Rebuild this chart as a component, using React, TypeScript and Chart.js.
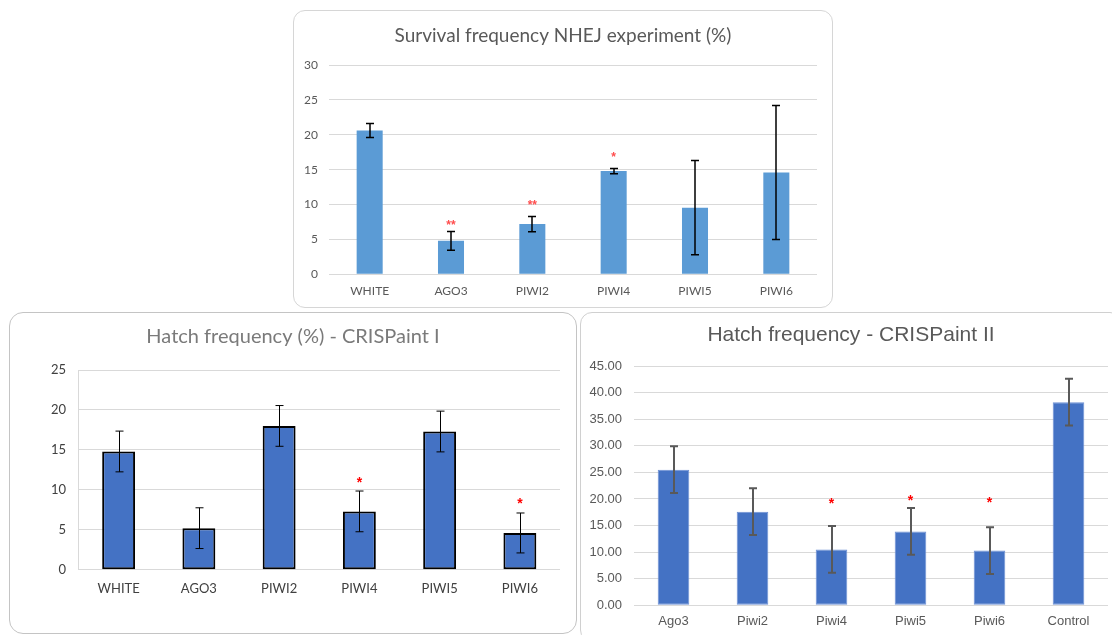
import React, { useEffect, useRef } from "react";
import { Chart, registerables } from "chart.js";

Chart.register(...registerables);

// ---------- Data: Survival frequency NHEJ experiment (%) ----------
const nhejCategories = ["WHITE", "AGO3", "PIWI2", "PIWI4", "PIWI5", "PIWI6"];
const nhejValues = [20.6, 4.8, 7.2, 14.8, 9.55, 14.6];
const nhejErrors = [1.0, 1.35, 1.1, 0.38, 6.75, 9.6];
const nhejStars = ["", "**", "**", "*", "", ""];
const nhejStarY: (number | null)[] = [null, 7.45, 10.26, 17.24, null, null];
const nhejYTicks = [0, 5, 10, 15, 20, 25, 30];
const nhejYLabels = ["0", "5", "10", "15", "20", "25", "30"];

// ---------- Data: Hatch frequency (%) - CRISPaint I ----------
const hatch1Categories = ["WHITE", "AGO3", "PIWI2", "PIWI4", "PIWI5", "PIWI6"];
const hatch1Values = [14.8, 5.2, 18.0, 7.3, 17.3, 4.6];
const hatch1Errors = [2.55, 2.55, 2.55, 2.55, 2.55, 2.5];
const hatch1Stars = ["", "", "", "*", "", "*"];
const hatch1StarY: (number | null)[] = [null, null, null, 11.2, null, 8.55];
const hatch1YTicks = [0, 5, 10, 15, 20, 25];
const hatch1YLabels = ["0", "5", "10", "15", "20", "25"];

// ---------- Data: Hatch frequency - CRISPaint II ----------
const hatch2Categories = ["Ago3", "Piwi2", "Piwi4", "Piwi5", "Piwi6", "Control"];
const hatch2Values = [25.5, 17.6, 10.5, 13.9, 10.3, 38.2];
const hatch2Errors = [4.4, 4.4, 4.4, 4.4, 4.4, 4.4];
const hatch2Stars = ["", "", "*", "*", "*", ""];
const hatch2StarY: (number | null)[] = [null, null, 19.67, 20.2, 19.86, null];
const hatch2YTicks = [0, 5, 10, 15, 20, 25, 30, 35, 40, 45];
const hatch2YLabels = ["0.00", "5.00", "10.00", "15.00", "20.00", "25.00", "30.00", "35.00", "40.00", "45.00"];

type PanelSpec = {
  title: string;
  categories: string[];
  values: number[];
  errors: number[];
  stars: string[];
  starY: (number | null)[];
  yTicks: number[];
  yLabels: string[];
  box: { left: number; top: number; width: number; height: number; radius: number; border: string };
  area: { left: number; right: number; top: number; bottom: number };
  titleY: number;
  titleFont: string;
  titleSize: number;
  titleColor: string;
  tickFont: string;
  tickSize: number;
  tickColor: string;
  xPad: number;
  yPad: number;
  barColor: string;
  barBorder: string;
  barBorderWidth: number;
  barPercentage: number;
  gridColor: string;
  yBorder: boolean;
  errColor: string;
  errWidth: number;
  capHalf: number;
  starColor: string;
  starFont: string;
};

function Panel({ spec }: { spec: PanelSpec }) {
  const ref = useRef<HTMLCanvasElement | null>(null);
  const cw = spec.box.width - 2;
  const ch = spec.box.height - 2;

  useEffect(() => {
    if (!ref.current) return;
    const s = spec;
    const xHeight = 30;
    const padBottom = ch - s.area.bottom - xHeight;

    const titlePlugin = {
      id: "boxTitle",
      afterDraw(chart: any) {
        const ctx = chart.ctx;
        ctx.save();
        ctx.fillStyle = s.titleColor;
        ctx.font = `${s.titleSize}px ${s.titleFont}`;
        ctx.textAlign = "center";
        ctx.textBaseline = "middle";
        ctx.fillText(s.title, chart.width / 2, s.titleY);
        ctx.restore();
      },
    };

    const errorPlugin = {
      id: "errorBars",
      afterDatasetsDraw(chart: any) {
        const ctx = chart.ctx;
        const yScale = chart.scales.y;
        const meta = chart.getDatasetMeta(0);
        ctx.save();
        ctx.strokeStyle = s.errColor;
        ctx.lineWidth = s.errWidth;
        meta.data.forEach((bar: any, i: number) => {
          const v = s.values[i];
          const e = s.errors[i];
          const yt = yScale.getPixelForValue(v + e);
          const yb = yScale.getPixelForValue(v - e);
          const x = Math.round(bar.x) + (s.errWidth % 2 === 1 ? 0.5 : 0);
          ctx.beginPath();
          ctx.moveTo(x, yt);
          ctx.lineTo(x, yb);
          ctx.moveTo(x - s.capHalf, yt);
          ctx.lineTo(x + s.capHalf, yt);
          ctx.moveTo(x - s.capHalf, yb);
          ctx.lineTo(x + s.capHalf, yb);
          ctx.stroke();
        });
        ctx.restore();
      },
    };

    const starPlugin = {
      id: "stars",
      afterDatasetsDraw(chart: any) {
        const ctx = chart.ctx;
        const xScale = chart.scales.x;
        const yScale = chart.scales.y;
        ctx.save();
        ctx.fillStyle = s.starColor;
        ctx.font = s.starFont;
        ctx.textAlign = "center";
        ctx.textBaseline = "alphabetic";
        s.stars.forEach((txt, i) => {
          const sv = s.starY[i];
          if (!txt || sv === null) return;
          const px = xScale.getPixelForValue(i);
          const py = yScale.getPixelForValue(sv);
          const m = ctx.measureText(txt);
          const off = (m.actualBoundingBoxAscent - m.actualBoundingBoxDescent) / 2;
          ctx.fillText(txt, px, py + off);
        });
        ctx.restore();
      },
    };

    const chart = new Chart(ref.current, {
      type: "bar",
      data: {
        labels: s.categories,
        datasets: [
          {
            data: s.values,
            backgroundColor: s.barColor,
            borderColor: s.barBorder,
            borderWidth: s.barBorderWidth,
            borderSkipped: false,
            barPercentage: s.barPercentage,
            categoryPercentage: 1,
          },
        ],
      },
      options: {
        responsive: false,
        animation: false,
        devicePixelRatio: 1,
        layout: {
          padding: { left: 0, right: cw - s.area.right, top: s.area.top, bottom: padBottom },
        },
        plugins: {
          legend: { display: false },
          tooltip: { enabled: false },
          title: { display: false },
        },
        scales: {
          x: {
            grid: { display: false, drawTicks: false },
            border: { display: false },
            ticks: {
              color: s.tickColor,
              font: { family: s.tickFont, size: s.tickSize },
              padding: s.xPad,
              maxRotation: 0,
              autoSkip: false,
            },
            afterFit: (scale: any) => {
              scale.height = xHeight;
            },
          },
          y: {
            min: s.yTicks[0],
            max: s.yTicks[s.yTicks.length - 1],
            grid: { color: s.gridColor, lineWidth: 1, drawTicks: false },
            border: { display: s.yBorder, color: s.gridColor, width: 1 },
            ticks: {
              color: s.tickColor,
              font: { family: s.tickFont, size: s.tickSize },
              padding: s.yPad,
              callback: (value: any) => {
                const idx = s.yTicks.indexOf(Number(value));
                return idx >= 0 ? s.yLabels[idx] : "";
              },
            },
            afterBuildTicks: (scale: any) => {
              scale.ticks = s.yTicks.map((v) => ({ value: v }));
            },
            afterFit: (scale: any) => {
              scale.width = s.area.left;
            },
          },
        },
      } as any,
      plugins: [titlePlugin, errorPlugin, starPlugin],
    });
    return () => chart.destroy();
  }, []);

  return (
    <div
      style={{
        position: "absolute",
        left: spec.box.left,
        top: spec.box.top,
        width: spec.box.width,
        height: spec.box.height,
        boxSizing: "border-box",
        border: `1px solid ${spec.box.border}`,
        borderRadius: spec.box.radius,
        background: "#ffffff",
        overflow: "hidden",
      }}
    >
      <canvas ref={ref} width={cw} height={ch} style={{ position: "absolute", left: 0, top: 0 }} />
    </div>
  );
}

const calibriLike = "Lato, 'Open Sans', sans-serif";
const arialLike = "'Liberation Sans', Arial, sans-serif";

const panels: PanelSpec[] = [
  {
    title: "Survival frequency NHEJ experiment (%)",
    categories: nhejCategories,
    values: nhejValues,
    errors: nhejErrors,
    stars: nhejStars,
    starY: nhejStarY,
    yTicks: nhejYTicks,
    yLabels: nhejYLabels,
    box: { left: 293, top: 10, width: 540, height: 298, radius: 12, border: "#d6d6d6" },
    area: { left: 35, right: 523, top: 54, bottom: 263.3 },
    titleY: 25,
    titleFont: calibriLike,
    titleSize: 19,
    titleColor: "#595959",
    tickFont: calibriLike,
    tickSize: 12,
    tickColor: "#595959",
    xPad: 10,
    yPad: 11,
    barColor: "#5B9BD5",
    barBorder: "#5B9BD5",
    barBorderWidth: 0,
    barPercentage: 0.32,
    gridColor: "#d9d9d9",
    yBorder: false,
    errColor: "#000000",
    errWidth: 1.5,
    capHalf: 4,
    starColor: "#ff4d4d",
    starFont: "bold 12px " + arialLike,
  },
  {
    title: "Hatch frequency (%) - CRISPaint I",
    categories: hatch1Categories,
    values: hatch1Values,
    errors: hatch1Errors,
    stars: hatch1Stars,
    starY: hatch1StarY,
    yTicks: hatch1YTicks,
    yLabels: hatch1YLabels,
    box: { left: 9, top: 312, width: 568, height: 322, radius: 14, border: "#c4c4c4" },
    area: { left: 68.5, right: 550, top: 57, bottom: 256.7 },
    titleY: 24,
    titleFont: calibriLike,
    titleSize: 20,
    titleColor: "#7a7a7a",
    tickFont: calibriLike,
    tickSize: 13,
    tickColor: "#404040",
    xPad: 11,
    yPad: 12.5,
    barColor: "#4472C4",
    barBorder: "#000000",
    barBorderWidth: 2,
    barPercentage: 0.41,
    gridColor: "#d9d9d9",
    yBorder: true,
    errColor: "#000000",
    errWidth: 1,
    capHalf: 4,
    starColor: "#ff0000",
    starFont: "bold 14px " + arialLike,
  },
  {
    title: "Hatch frequency - CRISPaint II",
    categories: hatch2Categories,
    values: hatch2Values,
    errors: hatch2Errors,
    stars: hatch2Stars,
    starY: hatch2StarY,
    yTicks: hatch2YTicks,
    yLabels: hatch2YLabels,
    box: { left: 580, top: 312, width: 542, height: 330, radius: 12, border: "#d0d0d0" },
    area: { left: 53, right: 527, top: 53, bottom: 292.3 },
    titleY: 22,
    titleFont: arialLike,
    titleSize: 21,
    titleColor: "#595959",
    tickFont: arialLike,
    tickSize: 13,
    tickColor: "#595959",
    xPad: 8.6,
    yPad: 12,
    barColor: "#4472C4",
    barBorder: "#6d90d4",
    barBorderWidth: 1,
    barPercentage: 0.4,
    gridColor: "#d9d9d9",
    yBorder: false,
    errColor: "#595959",
    errWidth: 2,
    capHalf: 4,
    starColor: "#ff0000",
    starFont: "bold 14px " + arialLike,
  },
];

export default function App() {
  return (
    <div
      style={{
        position: "absolute",
        left: 0,
        top: 0,
        width: 1112,
        height: 635,
        overflow: "hidden",
        background: "#ffffff",
      }}
    >
      {panels.map((p, i) => (
        <Panel key={i} spec={p} />
      ))}
    </div>
  );
}
